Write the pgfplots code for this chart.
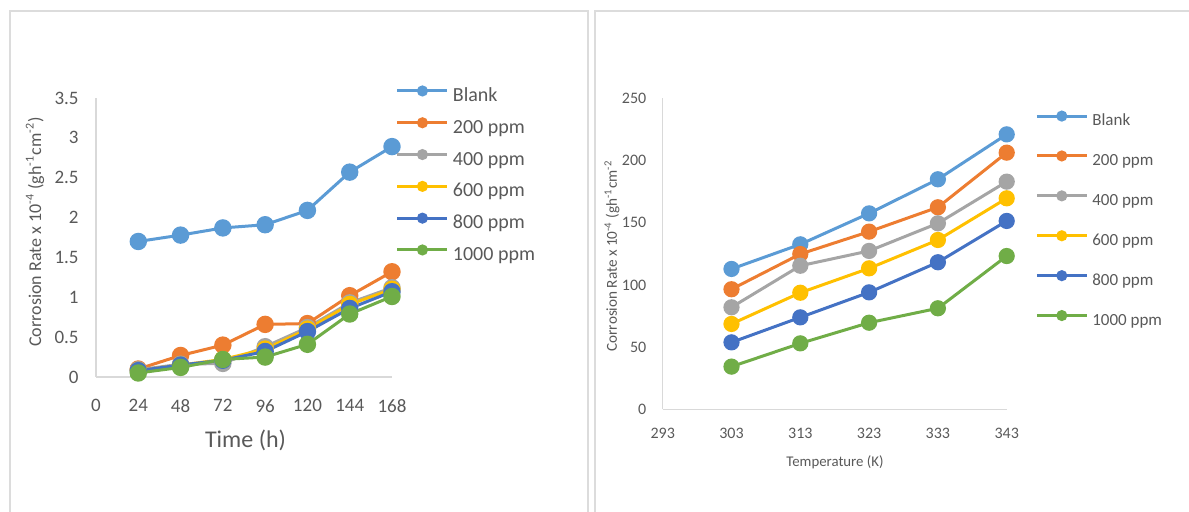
\documentclass[border=0pt]{standalone}
\usepackage{fontspec}
\setmainfont{Carlito}
\usepackage{pgfplots}
\pgfplotsset{compat=1.18}
\definecolor{cBlank}{HTML}{5B9BD5}
\definecolor{cTwo}{HTML}{ED7D31}
\definecolor{cFour}{HTML}{A5A5A5}
\definecolor{cSix}{HTML}{FFC000}
\definecolor{cEight}{HTML}{4472C4}
\definecolor{cTen}{HTML}{70AD47}
\definecolor{txt}{HTML}{595959}
\definecolor{axl}{HTML}{D9D9D9}
\definecolor{frm}{HTML}{DCDCDC}
\pgfplotsset{
 excel/.style={
  scale only axis, axis lines=left, axis line style={axl, line width=0.7pt, -},
  tick style={draw=none}, major tick length=0pt, clip=false,
  /pgf/number format/assume math mode=true,
  ticklabel style={text=txt},
  legend cell align=left,
  legend image code/.code={\draw[mark repeat=2, mark phase=2, #1, mark size=2pt] plot coordinates {(0pt,2.8pt)(12.5pt,2.8pt)(25pt,2.8pt)};},
 },
 every axis plot/.append style={line width=1.5pt, mark=*, mark options={solid}},
}
\begin{document}
\begin{tikzpicture}[x=0.5pt,y=0.5pt]
\path[use as bounding box] (0,0) rectangle (1189,512);
\coordinate (LA) at (96,135);
\coordinate (RA) at (662.7,102.7);
% panel frames
\draw[frm, line width=1pt] (10,0) -- (10,501) -- (588,501) -- (588,0);
\draw[frm, line width=1pt] (595,0) -- (595,501) -- (1189,501);
% left axis
\begin{axis}[excel, at={(LA)}, anchor=south west,
  width=148pt, height=139.5pt,
  xmin=0, xmax=168, ymin=0, ymax=3.5,
  xtick={0,24,...,168}, ytick={0,0.5,...,3.5},
  ticklabel style={font=\fontsize{9.5}{11}\selectfont},
  yticklabel style={anchor=east, inner sep=0pt, xshift=-8.5pt},
  xticklabel style={anchor=north, inner sep=0pt, yshift=-11pt},
  legend style={draw=none, fill=none, at={(axis description cs:1.012,1.041)}, anchor=north west,
    inner sep=0pt, row sep=6.6pt, column sep=2pt,
    nodes={inner sep=0pt, text height=7pt, text depth=2pt, text=txt, font=\fontsize{10}{12}\selectfont}},
  every axis plot/.append style={mark size=3.6pt},
]
\addplot[cBlank] coordinates {(24,1.70)(48,1.78)(72,1.87)(96,1.91)(120,2.09)(144,2.57)(168,2.89)};
\addplot[cTwo] coordinates {(24,0.10)(48,0.27)(72,0.40)(96,0.66)(120,0.67)(144,1.02)(168,1.32)};
\addplot[cFour] coordinates {(24,0.09)(48,0.16)(72,0.17)(96,0.38)(120,0.62)(144,0.93)(168,1.12)};
\addplot[cSix] coordinates {(24,0.08)(48,0.15)(72,0.22)(96,0.35)(120,0.60)(144,0.91)(168,1.10)};
\addplot[cEight] coordinates {(24,0.08)(48,0.15)(72,0.21)(96,0.32)(120,0.57)(144,0.86)(168,1.07)};
\addplot[cTen] coordinates {(24,0.05)(48,0.12)(72,0.22)(96,0.25)(120,0.41)(144,0.79)(168,1.01)};
\legend{Blank,200 ppm,400 ppm,600 ppm,800 ppm,1000 ppm}
\end{axis}
% right axis
\begin{axis}[excel, at={(RA)}, anchor=south west,
  width=172pt, height=155.5pt,
  xmin=293, xmax=343, ymin=0, ymax=250,
  xtick={293,303,...,343}, ytick={0,50,...,250},
  ticklabel style={font=\fontsize{8}{10}\selectfont},
  yticklabel style={anchor=east, inner sep=0pt, xshift=-8pt},
  xticklabel style={anchor=north, inner sep=0pt, yshift=-9.2pt},
  legend style={draw=none, fill=none, at={(axis description cs:1.082,0.957)}, anchor=north west,
    inner sep=0pt, row sep=11.25pt, column sep=2pt,
    nodes={inner sep=0pt, text height=6pt, text depth=1.8pt, text=txt, font=\fontsize{8.5}{10}\selectfont}},
  every axis plot/.append style={mark size=3.3pt},
]
\addplot[cBlank] coordinates {(303,112.8)(313,132.6)(323,157.5)(333,184.9)(343,221)};
\addplot[cTwo] coordinates {(303,96.5)(313,124.8)(323,142.8)(333,162.4)(343,206.3)};
\addplot[cFour] coordinates {(303,82)(313,115.4)(323,127.3)(333,149.5)(343,183)};
\addplot[cSix] coordinates {(303,68.6)(313,93.7)(323,113.3)(333,136.1)(343,169.6)};
\addplot[cEight] coordinates {(303,53.8)(313,73.9)(323,94)(333,118.2)(343,151.4)};
\addplot[cTen] coordinates {(303,34.3)(313,53)(323,69.6)(333,81.2)(343,123.2)};
\legend{Blank,200 ppm,400 ppm,600 ppm,800 ppm,1000 ppm}
\end{axis}
% axis titles
\node[rotate=90, text=txt, font=\fontsize{9}{11}\selectfont] at (35,280) {Corrosion Rate x 10\textsuperscript{-4} (gh\textsuperscript{-1}cm\textsuperscript{-2})};
\node[text=txt, font=\fontsize{12}{14}\selectfont] at (245.5,72) {Time (h)};
\node[rotate=90, text=txt, font=\fontsize{7.6}{9}\selectfont] at (612,256) {Corrosion Rate x 10\textsuperscript{-4} (gh\textsuperscript{-1}cm\textsuperscript{-2}};
\node[text=txt, font=\fontsize{7.4}{9}\selectfont] at (835,50) {Temperature (K)};
\end{tikzpicture}
\end{document}
